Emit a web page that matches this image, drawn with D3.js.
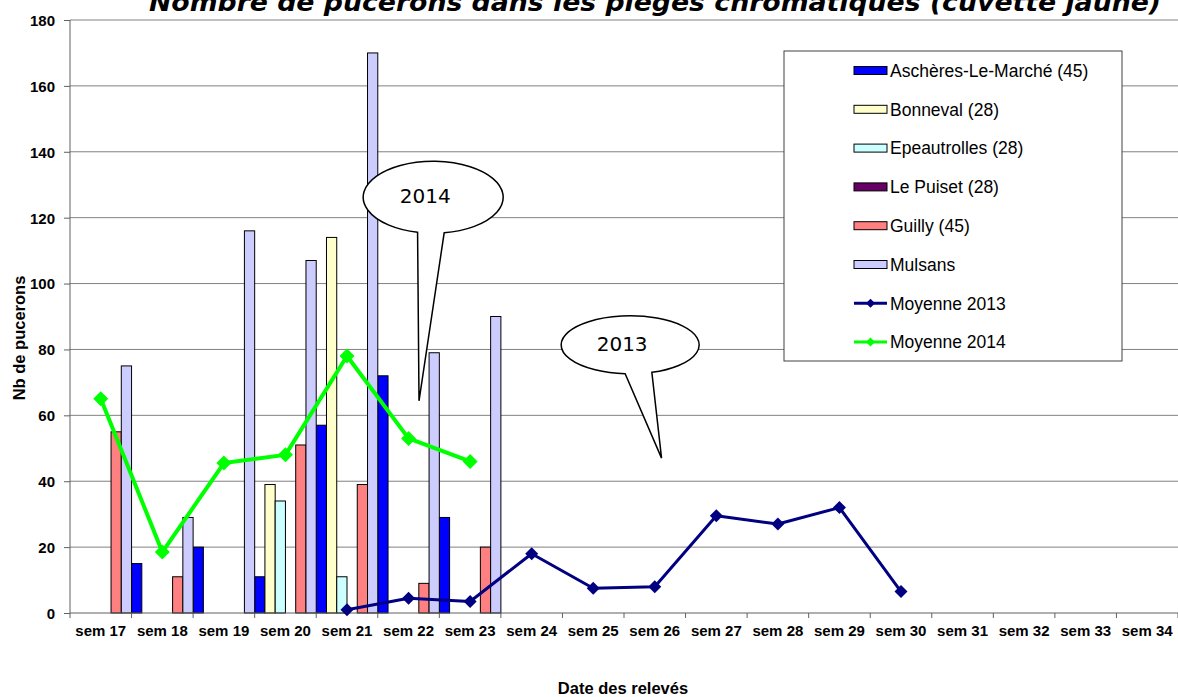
<!DOCTYPE html>
<html>
<head>
<meta charset="UTF-8">
<title>Pucerons - pieges chromatiques</title>
<style type="text/css">
body { margin: 0; background: #fff; }
.grid line { stroke: #808080; stroke-width: 1px; }
.bar { stroke: #000; stroke-width: 1px; }
</style>
<script src="https://d3js.org/d3.v7.min.js"></script>
</head>
<body>
<script type="text/javascript">
// data
var weeks = ["sem 17","sem 18","sem 19","sem 20","sem 21","sem 22","sem 23","sem 24","sem 25",
             "sem 26","sem 27","sem 28","sem 29","sem 30","sem 31","sem 32","sem 33","sem 34"];
var barSeries = ["Aschères-Le-Marché (45)","Bonneval (28)","Epeautrolles (28)","Le Puiset (28)","Guilly (45)","Mulsans"];
var barColors = ["#0000ff","#ffffcc","#ccffff","#660066","#ff8080","#ccccff"];
var aschères     = [null, 15, 20, 11, 57, 72, 29];
var bonneval     = [null, null, null, 39, 114, null, null];
var epeautrolles = [null, null, null, 34, 11, null, null];
var lePuiset     = [null, null, null, null, null, null, null];
var guilly       = [55, 11, null, 51, 39, 9, 20];
var mulsans      = [75, 29, 116, 107, 170, 79, 90];
var moyenne2013  = [null, null, null, null, 1, 4.5, 3.5, 18, 7.5, 8, 29.5, 27, 32, 6.5, null, null, null, null];
var moyenne2014  = [65, 18.5, 45.5, 48, 78, 53, 46];
var yTicks = [0, 20, 40, 60, 80, 100, 120, 140, 160, 180];

var barValues = [aschères, bonneval, epeautrolles, lePuiset, guilly, mulsans];

var W = 1178, H = 697;
var margin = {top: 20, right: 0, bottom: 84, left: 70};
var width = W - margin.left - margin.right,
    height = H - margin.top - margin.bottom;

var svg = d3.select("body").append("svg")
    .attr("width", W)
    .attr("height", H);

var g = svg.append("g")
    .attr("transform", "translate(" + margin.left + "," + margin.top + ")");

var x = d3.scaleBand().domain(weeks).range([0, width]).padding(0);
var xi = d3.scaleBand().domain(barSeries).range([0, x.bandwidth()]).padding(0);
var y = d3.scaleLinear().domain([0, 180]).range([height, 0]);
// fractional week position, used for the callouts
var xf = d3.scaleLinear().domain([0, weeks.length]).range([0, width]);

// horizontal grid
g.append("g").attr("class", "grid")
    .selectAll("line").data(yTicks.slice(1)).enter().append("line")
    .attr("x1", 0).attr("x2", width)
    .attr("y1", function(d) { return y(d); })
    .attr("y2", function(d) { return y(d); });

// bars
barValues.forEach(function(vals, si) {
    var rows = vals.map(function(v, i) { return {w: weeks[i], v: v}; })
        .filter(function(d) { return d.v; });
    g.append("g").selectAll("rect").data(rows).enter().append("rect")
        .attr("class", "bar")
        .attr("x", function(d) { return x(d.w) + xi(barSeries[si]); })
        .attr("width", xi.bandwidth())
        .attr("y", function(d) { return y(d.v); })
        .attr("height", function(d) { return y(0) - y(d.v); })
        .attr("fill", barColors[si]);
});

// axes
var yAxis = d3.axisLeft(y).tickValues(yTicks).tickSize(6).tickPadding(9);
var yg = g.append("g").call(yAxis);
yg.select(".domain").attr("stroke", "#606060").attr("d", "M0," + height + "V0");
yg.selectAll(".tick line").attr("stroke", "#606060");
yg.selectAll("text").attr("font-family", "Liberation Sans, Arial, sans-serif")
    .attr("font-weight", "bold").attr("font-size", "15px").attr("fill", "#000")
    .attr("dy", "0.36em");

var xg = g.append("g").attr("transform", "translate(0," + height + ")");
xg.append("line").attr("x1", 0).attr("x2", width).attr("stroke", "#606060");
xg.selectAll(".tk").data(weeks.concat(["end"])).enter().append("line")
    .attr("x1", function(d, i) { return i * x.step(); })
    .attr("x2", function(d, i) { return i * x.step(); })
    .attr("y1", 0).attr("y2", 5).attr("stroke", "#606060");
xg.selectAll("text").data(weeks).enter().append("text")
    .attr("x", function(d) { return x(d) + x.bandwidth() / 2; })
    .attr("y", 23)
    .attr("text-anchor", "middle")
    .attr("font-family", "Liberation Sans, Arial, sans-serif")
    .attr("font-weight", "bold").attr("font-size", "15px")
    .text(function(d) { return d; });

// lines
var line = d3.line()
    .defined(function(d) { return d.v != null; })
    .x(function(d) { return x(d.w) + x.bandwidth() / 2; })
    .y(function(d) { return y(d.v); });
var diamond = function(s) { return "M0,-" + s + "L" + s + ",0L0," + s + "L-" + s + ",0Z"; };

function drawLine(vals, color, lw, ms) {
    var rows = vals.map(function(v, i) { return {w: weeks[i], v: v}; });
    g.append("path").datum(rows)
        .attr("d", line)
        .attr("fill", "none")
        .attr("stroke", color)
        .attr("stroke-width", lw)
        .attr("stroke-linejoin", "round");
    g.append("g").selectAll("path").data(rows.filter(function(d) { return d.v != null; }))
        .enter().append("path")
        .attr("d", diamond(ms))
        .attr("fill", color)
        .attr("transform", function(d) {
            return "translate(" + (x(d.w) + x.bandwidth() / 2) + "," + y(d.v) + ")";
        });
}
drawLine(moyenne2013, "#000080", 3, 6.5);
drawLine(moyenne2014, "#00ff00", 4, 7.5);

// callouts
var callouts = [
    {label: "2014", cx: 5.90, cy: 126.2, rx: 70, ry: 36, b1: -15.6, b2: 11, tx: 5.67, ty: 64.4},
    {label: "2013", cx: 9.10, cy: 81.4, rx: 69, ry: 29, b1: -5, b2: 21.7, tx: 9.61, ty: 47.0}
];
callouts.forEach(function(c) {
    var cx = xf(c.cx), cy = y(c.cy);
    var by1 = cy + c.ry * Math.sqrt(1 - Math.pow(c.b1 / c.rx, 2));
    var by2 = cy + c.ry * Math.sqrt(1 - Math.pow(c.b2 / c.rx, 2));
    var p = "M" + (cx + c.b2) + "," + by2 +
        "A" + c.rx + "," + c.ry + " 0 1 0 " + (cx + c.b1) + "," + by1 +
        "L" + xf(c.tx) + "," + y(c.ty) + "Z";
    g.append("path").attr("d", p)
        .attr("fill", "#fff").attr("stroke", "#000").attr("stroke-width", 1.5);
    g.append("text")
        .attr("x", cx - 8).attr("y", cy - 1)
        .attr("dy", "0.36em")
        .attr("text-anchor", "middle")
        .attr("font-family", "DejaVu Sans, Verdana, sans-serif")
        .attr("font-size", "20px")
        .text(c.label);
});

// legend
var legendItems = barSeries.map(function(s, i) { return {name: s, color: barColors[i], type: "bar"}; })
    .concat([{name: "Moyenne 2013", color: "#000080", type: "line"},
             {name: "Moyenne 2014", color: "#00ff00", type: "line"}]);
var lg = svg.append("g").attr("transform", "translate(784,51)");
lg.append("rect").attr("width", 338).attr("height", 310)
    .attr("fill", "#fff").attr("stroke", "#404040").attr("stroke-width", 1);
var li = lg.selectAll(".li").data(legendItems).enter().append("g")
    .attr("transform", function(d, i) { return "translate(70," + (19.5 + i * 38.8) + ")"; });
li.filter(function(d) { return d.type == "bar"; }).append("rect")
    .attr("x", 0).attr("y", -4).attr("width", 33).attr("height", 8)
    .attr("fill", function(d) { return d.color; })
    .attr("stroke", "#000").attr("stroke-width", 1);
li.filter(function(d) { return d.type == "line"; }).append("line")
    .attr("x1", 0).attr("x2", 33)
    .attr("stroke", function(d) { return d.color; }).attr("stroke-width", 3);
li.filter(function(d) { return d.type == "line"; }).append("path")
    .attr("d", diamond(4.5)).attr("transform", "translate(16.5,0)")
    .attr("fill", function(d) { return d.color; });
li.append("text")
    .attr("x", 36).attr("dy", "0.36em")
    .attr("font-family", "Liberation Sans, Arial, sans-serif")
    .attr("font-size", "17.5px")
    .text(function(d) { return d.name; });

// titles
svg.append("text")
    .attr("x", 655).attr("y", 11)
    .attr("text-anchor", "middle")
    .attr("font-family", "DejaVu Sans, Verdana, sans-serif")
    .attr("font-weight", "bold").attr("font-style", "italic")
    .attr("font-size", "25px")
    .attr("textLength", 1012).attr("lengthAdjust", "spacingAndGlyphs")
    .text("Nombre de pucerons dans les pièges chromatiques (cuvette jaune)");

svg.append("text")
    .attr("transform", "translate(25,338) rotate(-90)")
    .attr("text-anchor", "middle")
    .attr("font-family", "Liberation Sans, Arial, sans-serif")
    .attr("font-weight", "bold").attr("font-size", "16.5px")
    .text("Nb de pucerons");

svg.append("text")
    .attr("x", 623).attr("y", 694)
    .attr("text-anchor", "middle")
    .attr("font-family", "Liberation Sans, Arial, sans-serif")
    .attr("font-weight", "bold").attr("font-size", "16.5px")
    .text("Date des relevés");
</script>
</body>
</html>
